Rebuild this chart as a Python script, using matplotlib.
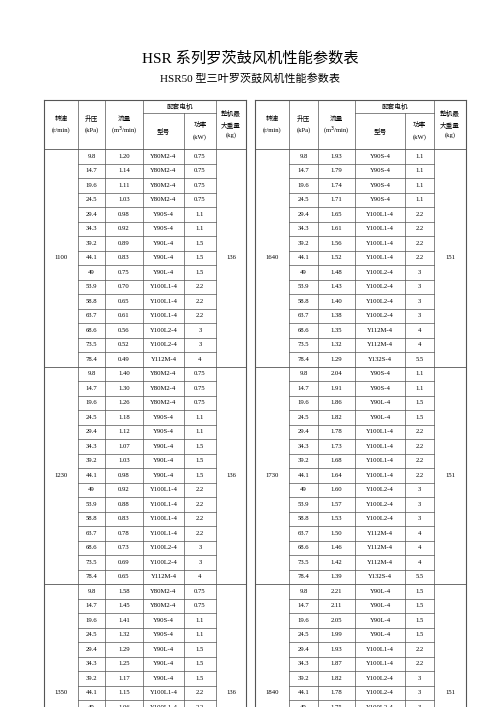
import matplotlib
matplotlib.use('Agg')
import matplotlib.pyplot as plt

plt.rcParams['font.family'] = ['Liberation Serif', 'Noto Sans CJK SC', 'DejaVu Sans']

PRESSURE = ["9.8", "14.7", "19.6", "24.5", "29.4", "34.3", "39.2", "44.1", "49",
            "53.9", "58.8", "63.7", "68.6", "73.5", "78.4"]

# left table
LEFT_SPEEDS = ["1100", "1230", "1350"]
LEFT_WEIGHT = ["136", "136", "136"]
LEFT_FLOW = [
    ["1.20", "1.14", "1.11", "1.03", "0.98", "0.92", "0.89", "0.83", "0.75", "0.70",
     "0.65", "0.61", "0.56", "0.52", "0.49"],
    ["1.40", "1.30", "1.26", "1.18", "1.12", "1.07", "1.03", "0.98", "0.92", "0.88",
     "0.83", "0.78", "0.73", "0.69", "0.65"],
    ["1.58", "1.45", "1.41", "1.32", "1.29", "1.25", "1.17", "1.15", "1.06"],
]
LEFT_MOTOR = [
    ["Y80M2-4"] * 4 + ["Y90S-4"] * 2 + ["Y90L-4"] * 3 + ["Y100L1-4"] * 3
    + ["Y100L2-4"] * 2 + ["Y112M-4"],
    ["Y80M2-4"] * 3 + ["Y90S-4"] * 2 + ["Y90L-4"] * 3 + ["Y100L1-4"] * 4
    + ["Y100L2-4"] * 2 + ["Y112M-4"],
    ["Y80M2-4"] * 2 + ["Y90S-4"] * 2 + ["Y90L-4"] * 3 + ["Y100L1-4"] * 2,
]
LEFT_KW = [
    ["0.75"] * 4 + ["1.1"] * 2 + ["1.5"] * 3 + ["2.2"] * 3 + ["3"] * 2 + ["4"],
    ["0.75"] * 3 + ["1.1"] * 2 + ["1.5"] * 3 + ["2.2"] * 4 + ["3"] * 2 + ["4"],
    ["0.75"] * 2 + ["1.1"] * 2 + ["1.5"] * 3 + ["2.2"] * 2,
]

# right table
RIGHT_SPEEDS = ["1640", "1730", "1840"]
RIGHT_WEIGHT = ["151", "151", "151"]
RIGHT_FLOW = [
    ["1.93", "1.79", "1.74", "1.71", "1.65", "1.61", "1.56", "1.52", "1.48", "1.43",
     "1.40", "1.38", "1.35", "1.32", "1.29"],
    ["2.04", "1.91", "1.86", "1.82", "1.78", "1.73", "1.68", "1.64", "1.60", "1.57",
     "1.53", "1.50", "1.46", "1.42", "1.39"],
    ["2.21", "2.11", "2.05", "1.99", "1.93", "1.87", "1.82", "1.78", "1.75"],
]
RIGHT_MOTOR = [
    ["Y90S-4"] * 4 + ["Y100L1-4"] * 4 + ["Y100L2-4"] * 4 + ["Y112M-4"] * 2 + ["Y132S-4"],
    ["Y90S-4"] * 2 + ["Y90L-4"] * 2 + ["Y100L1-4"] * 4 + ["Y100L2-4"] * 3
    + ["Y112M-4"] * 3 + ["Y132S-4"],
    ["Y90L-4"] * 4 + ["Y100L1-4"] * 2 + ["Y100L2-4"] * 3,
]
RIGHT_KW = [
    ["1.1"] * 4 + ["2.2"] * 4 + ["3"] * 4 + ["4"] * 2 + ["5.5"],
    ["1.1"] * 2 + ["1.5"] * 2 + ["2.2"] * 4 + ["3"] * 3 + ["4"] * 3 + ["5.5"],
    ["1.5"] * 4 + ["2.2"] * 2 + ["3"] * 3,
]

TOP, SUB, HEAD_BOT, ROW_H = 100, 113, 149, 14.5
LINE = "#555555"
FS = 4.8


def draw_table(ax, cols, speeds, weights, flows, motors, kws):
    x0, x1 = cols[0], cols[-1]
    # header
    ax.plot([x0, x1], [TOP, TOP], color=LINE, lw=0.8)
    ax.plot([cols[3], cols[5]], [SUB, SUB], color=LINE, lw=0.5)
    ax.plot([x0, x1], [HEAD_BOT, HEAD_BOT], color=LINE, lw=0.6)
    for i, x in enumerate(cols):
        if i == 4:
            ax.plot([x, x], [SUB, 710], color=LINE, lw=0.5)
        else:
            ax.plot([x, x], [TOP, 710], color=LINE, lw=0.8 if i in (0, 6) else 0.5)
    mid = lambda a, b: (cols[a] + cols[b]) / 2
    hy = (TOP + HEAD_BOT) / 2
    ax.text(mid(0, 1), hy - 6, "转速", fontsize=FS, ha="center", va="center")
    ax.text(mid(0, 1), hy + 6, "(r/min)", fontsize=FS, ha="center", va="center")
    ax.text(mid(1, 2), hy - 6, "升压", fontsize=FS, ha="center", va="center")
    ax.text(mid(1, 2), hy + 6, "(kPa)", fontsize=FS, ha="center", va="center")
    ax.text(mid(2, 3), hy - 6, "流量", fontsize=FS, ha="center", va="center")
    ax.text(mid(2, 3), hy + 6, "(m$^3$/min)", fontsize=FS, ha="center", va="center")
    ax.text(mid(3, 5), (TOP + SUB) / 2, "配套电机", fontsize=FS, ha="center", va="center")
    ax.text(mid(3, 4), (SUB + HEAD_BOT) / 2, "型号", fontsize=FS, ha="center", va="center")
    ax.text(mid(4, 5), (SUB + HEAD_BOT) / 2 - 6, "功率", fontsize=FS, ha="center", va="center")
    ax.text(mid(4, 5), (SUB + HEAD_BOT) / 2 + 6, "(kW)", fontsize=FS, ha="center", va="center")
    ax.text(mid(5, 6), hy - 11, "整机最", fontsize=FS, ha="center", va="center")
    ax.text(mid(5, 6), hy, "大重量", fontsize=FS, ha="center", va="center")
    ax.text(mid(5, 6), hy + 11, "(kg)", fontsize=FS, ha="center", va="center")

    y = HEAD_BOT
    for b, speed in enumerate(speeds):
        n = len(flows[b])
        for r in range(n):
            cy = y + ROW_H * (r + 0.5)
            ax.text(mid(1, 2), cy, PRESSURE[r], fontsize=FS, ha="center", va="center")
            ax.text(mid(2, 3), cy, flows[b][r], fontsize=FS, ha="center", va="center")
            ax.text(mid(3, 4), cy, motors[b][r], fontsize=FS, ha="center", va="center")
            ax.text(mid(4, 5), cy, kws[b][r], fontsize=FS, ha="center", va="center")
            if r < n - 1:
                ax.plot([cols[1], cols[5]], [y + ROW_H * (r + 1)] * 2, color=LINE, lw=0.5)
        span = 15 * ROW_H
        ax.text(mid(0, 1), y + span / 2, speed, fontsize=FS, ha="center", va="center")
        ax.text(mid(5, 6), y + span / 2, weights[b], fontsize=FS, ha="center", va="center")
        y += n * ROW_H
        if b < len(speeds) - 1:
            ax.plot([x0, x1], [y, y], color=LINE, lw=0.6)
        else:
            ax.plot([cols[1], cols[5]], [y, y], color=LINE, lw=0.5)


fig = plt.figure(figsize=(5.0, 7.07), dpi=100)
ax = fig.add_axes([0, 0, 1, 1])
ax.set_xlim(0, 500)
ax.set_ylim(707, 0)
ax.axis("off")

ax.text(250, 58, "HSR 系列罗茨鼓风机性能参数表", fontsize=11, ha="center", va="center")
ax.text(250, 78, "HSR50 型三叶罗茨鼓风机性能参数表", fontsize=8, ha="center", va="center")

draw_table(ax, [44, 78, 105, 143, 184, 216, 246],
           LEFT_SPEEDS, LEFT_WEIGHT, LEFT_FLOW, LEFT_MOTOR, LEFT_KW)
draw_table(ax, [255, 289, 318, 355, 405, 434, 466],
           RIGHT_SPEEDS, RIGHT_WEIGHT, RIGHT_FLOW, RIGHT_MOTOR, RIGHT_KW)

fig.savefig("out.png", dpi=100)
